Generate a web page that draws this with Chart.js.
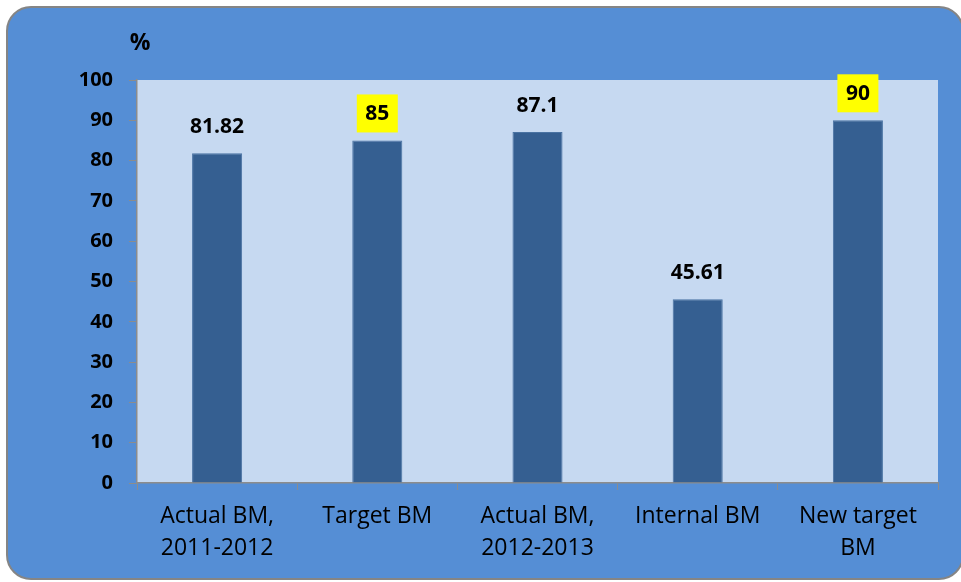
<!DOCTYPE html>
<html>
<head>
<meta charset="utf-8">
<script src="https://cdn.jsdelivr.net/npm/chart.js@4/dist/chart.umd.min.js"></script>
<style>
  html, body { margin: 0; padding: 0; background: #ffffff; }
  #wrap { width: 961px; height: 582px; }
</style>
</head>
<body>
<div id="wrap"><canvas id="c" width="961" height="582"></canvas></div>
<script>
const categories = [["Actual BM,", "2011-2012"], "Target BM", ["Actual BM,", "2012-2013"], "Internal BM", ["New target", "BM"]];
const values = [81.82, 85, 87.1, 45.61, 90];
const valueLabels = ["81.82", "85", "87.1", "45.61", "90"];
const highlighted = [false, true, false, false, true];
const yTicks = [0, 10, 20, 30, 40, 50, 60, 70, 80, 90, 100];
const unitLabel = "%";

const FONT = "'Open Sans', 'DejaVu Sans', sans-serif";

const backgroundPlugin = {
  id: 'bgBox',
  beforeDraw(chart) {
    const ctx = chart.ctx;
    ctx.save();
    ctx.fillStyle = '#ffffff';
    ctx.fillRect(0, 0, chart.width, chart.height);
    const x = 7, y = 7, w = 956, h = 572, r = 24;
    ctx.beginPath();
    ctx.moveTo(x + r, y);
    ctx.lineTo(x + w - r, y);
    ctx.arcTo(x + w, y, x + w, y + r, r);
    ctx.lineTo(x + w, y + h - r);
    ctx.arcTo(x + w, y + h, x + w - r, y + h, r);
    ctx.lineTo(x + r, y + h);
    ctx.arcTo(x, y + h, x, y + h - r, r);
    ctx.lineTo(x, y + r);
    ctx.arcTo(x, y, x + r, y, r);
    ctx.closePath();
    ctx.fillStyle = '#558ED5';
    ctx.fill();
    ctx.lineWidth = 2;
    ctx.strokeStyle = '#858585';
    ctx.stroke();
    const a = chart.chartArea;
    ctx.fillStyle = '#C6D9F1';
    ctx.fillRect(a.left, a.top, a.right - a.left, a.bottom - a.top);
    ctx.fillStyle = '#000000';
    ctx.font = "bold 23px " + FONT;
    ctx.textAlign = 'center';
    ctx.textBaseline = 'middle';
    ctx.fillText(unitLabel, 140, 43);
    ctx.restore();
  }
};

const labelPlugin = {
  id: 'valLabels',
  afterDatasetsDraw(chart) {
    const ctx = chart.ctx;
    const meta = chart.getDatasetMeta(0);
    ctx.save();
    ctx.font = "bold 21px " + FONT;
    ctx.textAlign = 'center';
    ctx.textBaseline = 'middle';
    meta.data.forEach((bar, i) => {
      const cx = bar.x;
      const cy = bar.y - 27;
      const txt = valueLabels[i];
      if (highlighted[i]) {
        ctx.fillStyle = '#FFFF00';
        ctx.fillRect(cx - 20.5, cy - 19, 41, 38);
      }
      ctx.fillStyle = '#000000';
      ctx.fillText(txt, cx, cy + 1);
    });
    ctx.restore();
  }
};

new Chart(document.getElementById('c'), {
  type: 'bar',
  data: {
    labels: categories,
    datasets: [{
      data: values,
      backgroundColor: '#355F91',
      borderColor: '#4A73A3',
      borderWidth: 1,
      borderSkipped: 'bottom',
      barPercentage: 0.625,
      categoryPercentage: 0.5
    }]
  },
  options: {
    responsive: false,
    animation: false,
    devicePixelRatio: 1,
    layout: { padding: { left: 0, top: 80, right: 23, bottom: 0 } },
    plugins: { legend: { display: false }, tooltip: { enabled: false } },
    scales: {
      x: {
        offset: true,
        afterFit(s) { s.height = 99; },
        grid: { drawOnChartArea: false, drawTicks: true, tickLength: 7, color: '#8C8C8C', offset: true },
        border: { display: true, color: '#8C8C8C', width: 1.5 },
        ticks: { color: '#000000', font: { family: FONT, size: 23, lineHeight: 1.39 }, padding: 10, maxRotation: 0, autoSkip: false }
      },
      y: {
        min: 0, max: 100,
        afterFit(s) { s.width = 137; },
        afterBuildTicks(s) { s.ticks = yTicks.map(v => ({ value: v })); },
        grid: { drawOnChartArea: false, drawTicks: true, tickLength: 8, color: '#8C8C8C' },
        border: { display: true, color: '#8C8C8C', width: 1.5 },
        ticks: { color: '#000000', font: { family: FONT, size: 20, weight: 'bold' }, padding: 16 }
      }
    }
  },
  plugins: [backgroundPlugin, labelPlugin]
});
</script>
</body>
</html>
